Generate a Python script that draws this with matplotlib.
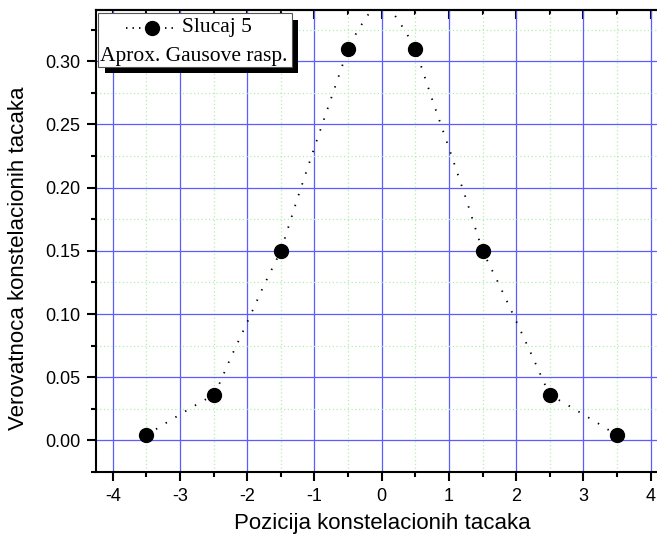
import matplotlib
matplotlib.use("Agg")
import matplotlib.pyplot as plt
from matplotlib.lines import Line2D
from matplotlib.patches import Rectangle
from matplotlib.ticker import MultipleLocator, FormatStrFormatter

plt.rcParams.update({
    "font.family": "Liberation Sans",
    "axes.unicode_minus": False,
})

# measured points
x_pts = [-3.5, -2.5, -1.5, -0.5, 0.5, 1.5, 2.5, 3.5]
p_pts = [0.004, 0.036, 0.15, 0.31, 0.31, 0.15, 0.036, 0.004]

# smooth connecting curve (dotted)
x_curve = [-3.5, -3.25, -3.0, -2.75, -2.5, -2.4, -2.25, -2.0, -1.75, -1.5,
           -1.25, -1.0, -0.75, -0.5, -0.35, -0.2, 0.0, 0.2, 0.35, 0.5,
           0.75, 1.0, 1.25, 1.5, 1.75, 2.0, 2.25, 2.4, 2.5, 2.75,
           3.0, 3.25, 3.5]
p_curve = [0.004, 0.0125, 0.0205, 0.0285, 0.036, 0.0465, 0.065, 0.0935, 0.123, 0.15,
           0.192, 0.232, 0.271, 0.31, 0.325, 0.337, 0.344, 0.336, 0.324, 0.31,
           0.27, 0.2315, 0.192, 0.15, 0.123, 0.0945, 0.0655, 0.0475, 0.036, 0.0285,
           0.0205, 0.0125, 0.004]

labels = ["Slucaj 5", "Aprox. Gausove rasp."]

W, H = 657, 542
fs_tick = 13
fs_lab = 16
fs_leg = 15.5

def fx(px):
    return px / W

def fy(py):
    return 1 - py / H

fig = plt.figure(figsize=(W / 100, H / 100), dpi=100)
ax = fig.add_axes([fx(96), fy(472), fx(662) - fx(96), fy(10) - fy(472)])

ax.plot(x_curve, p_curve, color="k", lw=1.3, linestyle=(0, (0.8, 5.5)), zorder=3)
ax.plot(x_pts, p_pts, "o", color="k", ms=10, zorder=4)

ax.set_xlim(-4.25, 4.17)
ax.set_ylim(-0.025, 0.3406)

ax.xaxis.set_major_locator(MultipleLocator(1))
ax.xaxis.set_minor_locator(MultipleLocator(0.5))
ax.yaxis.set_major_locator(MultipleLocator(0.05))
ax.yaxis.set_minor_locator(MultipleLocator(0.025))
ax.yaxis.set_major_formatter(FormatStrFormatter("%.2f"))

ax.set_axisbelow(True)
ax.grid(which="major", color="#5c5cff", lw=0.9)
ax.grid(which="minor", color="#b2eeb2", lw=0.9, linestyle=(0, (1, 2)))

for s in ax.spines.values():
    s.set_linewidth(1.5)
ax.spines["right"].set_visible(False)
ax.tick_params(which="major", direction="out", length=6.5, width=1.5,
               labelsize=fs_tick, pad=5)
ax.tick_params(which="minor", direction="out", length=3.6, width=1.5)

top = ax.secondary_xaxis("top")
top.xaxis.set_major_locator(MultipleLocator(1))
top.xaxis.set_minor_locator(MultipleLocator(0.5))
top.tick_params(which="major", direction="in", length=6.5, width=1.5, labeltop=False)
top.tick_params(which="minor", direction="in", length=3.6, width=1.5)
top.spines["top"].set_linewidth(1.5)

fig.text(fx(382), fy(523), "Pozicija konstelacionih tacaka", fontsize=fs_lab,
         ha="center", va="center")
fig.text(fx(19), fy(258), "Verovatnoca konstelacionih tacaka", fontsize=fs_lab,
         ha="center", va="center", rotation=90)

# legend box with hard shadow
x0, y0, x1, y1 = 98.3, 13.3, 291.7, 66.7
off = 6.5
fig.add_artist(Rectangle((fx(x0 + off), fy(y1 + off)), fx(x1 - x0), fy(y0) - fy(y1),
                         facecolor="k", edgecolor="none", zorder=10))
fig.add_artist(Rectangle((fx(x0), fy(y1)), fx(x1 - x0), fy(y0) - fy(y1),
                         facecolor="white", edgecolor="#555555", lw=0.8, zorder=11))
fig.add_artist(Line2D([fx(126), fx(176)], [fy(27.5), fy(27.5)], color="k", lw=1.3,
                      linestyle=(0, (0.8, 2.8)), zorder=12))
fig.add_artist(Line2D([fx(151.7)], [fy(27.5)], marker="o", color="k", ms=10, zorder=13))
fig.text(fx(182), fy(27.5), labels[0], fontsize=fs_leg, family="Liberation Serif",
         ha="left", va="center", zorder=13)
fig.text(fx(100), fy(56), labels[1], fontsize=fs_leg, family="Liberation Serif",
         ha="left", va="center", zorder=13)

fig.savefig("out.png", dpi=100)
